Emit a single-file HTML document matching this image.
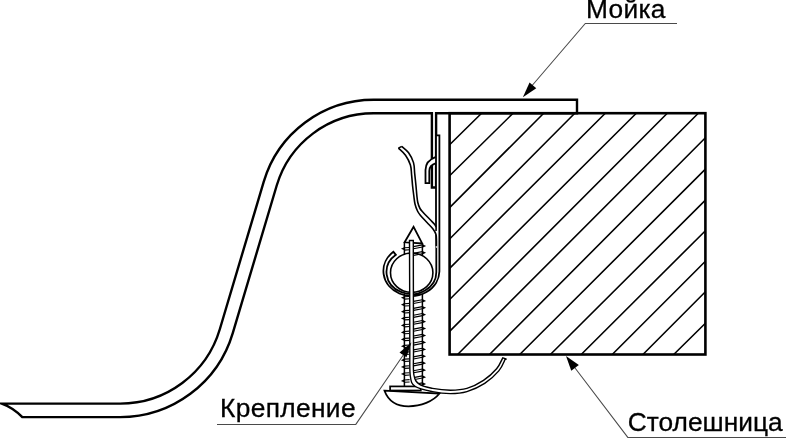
<!DOCTYPE html>
<html><head><meta charset="utf-8"><style>html,body{margin:0;padding:0;background:#fff;}svg{display:block;}</style></head>
<body><svg width="800" height="448" viewBox="0 0 800 448">
<rect width="800" height="448" fill="#fff"/>
<path d="M481.6,113.2 L449.6,144.7 M513.1,113.2 L449.6,175.7 M543.7,113.2 L449.6,207.6 M574.8,113.2 L449.6,239.0 M605.3,113.2 L449.6,268.4 M636.3,113.2 L449.6,299.5 M667.3,113.2 L449.6,331.4 M698.3,113.2 L457.6,354.5 M705.4,137.7 L489.5,354.5 M705.4,169.1 L519.7,354.5 M705.4,200.1 L550.4,354.5 M705.4,230.7 L581.2,354.5 M705.4,261.2 L612.2,354.5 M705.4,291.7 L642.9,354.5 M705.4,323.3 L673.7,354.5" stroke="#000" stroke-width="1.6" fill="none"/>
<rect x="449.6" y="113.2" width="255.8" height="241.3" fill="none" stroke="#000" stroke-width="2.6"/>
<path d="M1.7,403.61 L120.06,403.61 A104.07,104.07 0 0 0 219.80,329.25 L263.76,181.67 A114.63,114.63 0 0 1 373.61,99.77 L577,99.77 L577,113.2 L436.1,113.2 L436.1,187.5 L431.9,187.5 L431.9,113.29 L373.61,113.29 A101.10,101.10 0 0 0 276.72,185.53 L232.76,333.12 A117.59,117.59 0 0 1 120.06,417.14 L22.3,417.14 C14,408.5 7,405.5 1.7,403.61 Z" fill="none" stroke="#000" stroke-width="2.4" stroke-linejoin="miter" stroke-miterlimit="10"/>
<path d="M436,156.8 C430,159 425.5,163 425.5,170 L425.5,183.2 L429.3,183.2 L429.3,171 C429.3,167 432,164.5 436,163.2" fill="#fff" stroke="#000" stroke-width="1.8"/>
<path d="M436,135.4 L439.4,135.4 L439.4,271.5 A28,25 0 1 1 393.4,251.8 L395.9,254.8 A24.9,22 0 1 0 436.3,271.5 L436.3,241 L436,232 Z" fill="#fff" stroke="#000" stroke-width="1.8"/>
<path d="M398.40,148.10 C399.58,149.28 403.50,152.38 405.50,155.20 C407.50,158.02 409.38,161.73 410.40,165.00 C411.42,168.27 411.23,171.30 411.60,174.80 C411.97,178.30 412.25,182.63 412.60,186.00 C412.95,189.37 413.30,192.00 413.70,195.00 C414.10,198.00 414.37,201.33 415.00,204.00 C415.63,206.67 416.58,209.08 417.50,211.00 C418.42,212.92 418.92,213.58 420.50,215.50 C422.08,217.42 424.92,220.25 427.00,222.50 C429.08,224.75 431.50,227.00 433.00,229.00 C434.50,231.00 435.45,232.50 436.00,234.50 C436.55,236.50 436.25,239.08 436.30,241.00 C436.35,242.92 436.30,245.17 436.30,246.00 L436.3,248 L437,248 L437,226 L436.00,231.00 C436.00,230.33 436.25,228.13 436.00,227.00 C435.75,225.87 435.50,225.45 434.50,224.20 C433.50,222.95 431.88,221.45 430.00,219.50 C428.12,217.55 424.87,214.33 423.20,212.50 C421.53,210.67 420.90,210.17 420.00,208.50 C419.10,206.83 418.33,204.75 417.80,202.50 C417.27,200.25 417.10,197.75 416.80,195.00 C416.50,192.25 416.35,189.57 416.00,186.00 C415.65,182.43 415.12,177.50 414.70,173.60 C414.28,169.70 414.52,166.08 413.50,162.60 C412.48,159.12 410.55,155.40 408.60,152.70 C406.65,150.00 402.93,147.45 401.80,146.40 Z" fill="#fff" stroke="none"/>
<path d="M398.40,148.10 C399.58,149.28 403.50,152.38 405.50,155.20 C407.50,158.02 409.38,161.73 410.40,165.00 C411.42,168.27 411.23,171.30 411.60,174.80 C411.97,178.30 412.25,182.63 412.60,186.00 C412.95,189.37 413.30,192.00 413.70,195.00 C414.10,198.00 414.37,201.33 415.00,204.00 C415.63,206.67 416.58,209.08 417.50,211.00 C418.42,212.92 418.92,213.58 420.50,215.50 C422.08,217.42 424.92,220.25 427.00,222.50 C429.08,224.75 431.50,227.00 433.00,229.00 C434.50,231.00 435.45,232.50 436.00,234.50 C436.55,236.50 436.25,239.08 436.30,241.00 C436.35,242.92 436.30,245.17 436.30,246.00" fill="none" stroke="#000" stroke-width="1.6"/>
<path d="M401.80,146.40 C402.93,147.45 406.65,150.00 408.60,152.70 C410.55,155.40 412.48,159.12 413.50,162.60 C414.52,166.08 414.28,169.70 414.70,173.60 C415.12,177.50 415.65,182.43 416.00,186.00 C416.35,189.57 416.50,192.25 416.80,195.00 C417.10,197.75 417.27,200.25 417.80,202.50 C418.33,204.75 419.10,206.83 420.00,208.50 C420.90,210.17 421.53,210.67 423.20,212.50 C424.87,214.33 428.12,217.55 430.00,219.50 C431.88,221.45 433.50,222.95 434.50,224.20 C435.50,225.45 435.75,225.87 436.00,227.00 C436.25,228.13 436.00,230.33 436.00,231.00" fill="none" stroke="#000" stroke-width="1.6"/>
<path d="M398.4,148.1 L401.8,146.4" stroke="#000" stroke-width="1.6"/>
<ellipse cx="411.7" cy="272.7" rx="21.2" ry="19.7" fill="none" stroke="#000" stroke-width="1.6"/>
<path d="M413.6,226.8 L404.6,242.3 L422.2,243.4 Z" fill="#fff" stroke="#000" stroke-width="1.8" stroke-linejoin="miter"/>
<path d="M404.6,246.90 L400.9,248.80 L404.6,250.30 Z" fill="#000"/>
<path d="M404.4,247.80 L409.6,247.50 M404.4,250.10 L409.6,249.80" stroke="#000" stroke-width="1.15"/>
<path d="M404.6,295.90 L400.9,297.80 L404.6,299.30 Z" fill="#000"/>
<path d="M404.4,296.80 L409.6,296.50 M404.4,299.10 L409.6,298.80" stroke="#000" stroke-width="1.15"/>
<path d="M404.6,302.83 L400.9,304.73 L404.6,306.23 Z" fill="#000"/>
<path d="M404.4,303.73 L409.6,303.43 M404.4,306.03 L409.6,305.73" stroke="#000" stroke-width="1.15"/>
<path d="M404.6,309.76 L400.9,311.66 L404.6,313.16 Z" fill="#000"/>
<path d="M404.4,310.66 L409.6,310.36 M404.4,312.96 L409.6,312.66" stroke="#000" stroke-width="1.15"/>
<path d="M404.6,316.69 L400.9,318.59 L404.6,320.09 Z" fill="#000"/>
<path d="M404.4,317.59 L409.6,317.29 M404.4,319.89 L409.6,319.59" stroke="#000" stroke-width="1.15"/>
<path d="M404.6,323.62 L400.9,325.52 L404.6,327.02 Z" fill="#000"/>
<path d="M404.4,324.52 L409.6,324.22 M404.4,326.82 L409.6,326.52" stroke="#000" stroke-width="1.15"/>
<path d="M404.6,330.55 L400.9,332.45 L404.6,333.95 Z" fill="#000"/>
<path d="M404.4,331.45 L409.6,331.15 M404.4,333.75 L409.6,333.45" stroke="#000" stroke-width="1.15"/>
<path d="M404.6,337.48 L400.9,339.38 L404.6,340.88 Z" fill="#000"/>
<path d="M404.4,338.38 L409.6,338.08 M404.4,340.68 L409.6,340.38" stroke="#000" stroke-width="1.15"/>
<path d="M404.6,344.41 L400.9,346.31 L404.6,347.81 Z" fill="#000"/>
<path d="M404.4,345.31 L409.6,345.01 M404.4,347.61 L409.6,347.31" stroke="#000" stroke-width="1.15"/>
<path d="M404.6,351.34 L400.9,353.24 L404.6,354.74 Z" fill="#000"/>
<path d="M404.4,352.24 L409.6,351.94 M404.4,354.54 L409.6,354.24" stroke="#000" stroke-width="1.15"/>
<path d="M404.6,358.27 L400.9,360.17 L404.6,361.67 Z" fill="#000"/>
<path d="M404.4,359.17 L409.6,358.87 M404.4,361.47 L409.6,361.17" stroke="#000" stroke-width="1.15"/>
<path d="M404.6,365.20 L400.9,367.10 L404.6,368.60 Z" fill="#000"/>
<path d="M404.4,366.10 L409.6,365.80 M404.4,368.40 L409.6,368.10" stroke="#000" stroke-width="1.15"/>
<path d="M404.6,372.13 L400.9,374.03 L404.6,375.53 Z" fill="#000"/>
<path d="M404.4,373.03 L409.6,372.73 M404.4,375.33 L409.6,375.03" stroke="#000" stroke-width="1.15"/>
<path d="M404.6,379.06 L400.9,380.96 L404.6,382.46 Z" fill="#000"/>
<path d="M404.4,379.96 L409.6,379.66 M404.4,382.26 L409.6,381.96" stroke="#000" stroke-width="1.15"/>
<path d="M422.4,244.20 L426.1,246.10 L422.4,247.70 Z" fill="#000"/>
<path d="M413.5,246.60 L422.4,244.90 M413.5,248.70 L422.4,247.00" stroke="#000" stroke-width="1.15"/>
<path d="M422.4,250.90 L426.1,252.80 L422.4,254.40 Z" fill="#000"/>
<path d="M413.5,253.30 L422.4,251.60 M413.5,255.40 L422.4,253.70" stroke="#000" stroke-width="1.15"/>
<path d="M422.4,299.00 L426.1,300.90 L422.4,302.50 Z" fill="#000"/>
<path d="M413.5,301.40 L422.4,299.70 M413.5,303.50 L422.4,301.80" stroke="#000" stroke-width="1.15"/>
<path d="M422.4,305.93 L426.1,307.83 L422.4,309.43 Z" fill="#000"/>
<path d="M413.5,308.33 L422.4,306.63 M413.5,310.43 L422.4,308.73" stroke="#000" stroke-width="1.15"/>
<path d="M422.4,312.86 L426.1,314.76 L422.4,316.36 Z" fill="#000"/>
<path d="M413.5,315.26 L422.4,313.56 M413.5,317.36 L422.4,315.66" stroke="#000" stroke-width="1.15"/>
<path d="M422.4,319.79 L426.1,321.69 L422.4,323.29 Z" fill="#000"/>
<path d="M413.5,322.19 L422.4,320.49 M413.5,324.29 L422.4,322.59" stroke="#000" stroke-width="1.15"/>
<path d="M422.4,326.72 L426.1,328.62 L422.4,330.22 Z" fill="#000"/>
<path d="M413.5,329.12 L422.4,327.42 M413.5,331.22 L422.4,329.52" stroke="#000" stroke-width="1.15"/>
<path d="M422.4,333.65 L426.1,335.55 L422.4,337.15 Z" fill="#000"/>
<path d="M413.5,336.05 L422.4,334.35 M413.5,338.15 L422.4,336.45" stroke="#000" stroke-width="1.15"/>
<path d="M422.4,340.58 L426.1,342.48 L422.4,344.08 Z" fill="#000"/>
<path d="M413.5,342.98 L422.4,341.28 M413.5,345.08 L422.4,343.38" stroke="#000" stroke-width="1.15"/>
<path d="M422.4,347.51 L426.1,349.41 L422.4,351.01 Z" fill="#000"/>
<path d="M413.5,349.91 L422.4,348.21 M413.5,352.01 L422.4,350.31" stroke="#000" stroke-width="1.15"/>
<path d="M422.4,354.44 L426.1,356.34 L422.4,357.94 Z" fill="#000"/>
<path d="M413.5,356.84 L422.4,355.14 M413.5,358.94 L422.4,357.24" stroke="#000" stroke-width="1.15"/>
<path d="M422.4,361.37 L426.1,363.27 L422.4,364.87 Z" fill="#000"/>
<path d="M413.5,363.77 L422.4,362.07 M413.5,365.87 L422.4,364.17" stroke="#000" stroke-width="1.15"/>
<path d="M422.4,368.30 L426.1,370.20 L422.4,371.80 Z" fill="#000"/>
<path d="M413.5,370.70 L422.4,369.00 M413.5,372.80 L422.4,371.10" stroke="#000" stroke-width="1.15"/>
<path d="M422.4,375.23 L426.1,377.13 L422.4,378.73 Z" fill="#000"/>
<path d="M413.5,377.63 L422.4,375.93 M413.5,379.73 L422.4,378.03" stroke="#000" stroke-width="1.15"/>
<path d="M422.4,382.16 L426.1,384.06 L422.4,385.66 Z" fill="#000"/>
<path d="M413.5,384.56 L422.4,382.86 M413.5,386.66 L422.4,384.96" stroke="#000" stroke-width="1.15"/>
<path d="M404.4,243 L404.4,254 M422.4,243.4 L422.4,255 M404.4,294 L404.4,386.4 M422.4,294 L422.4,386.4" stroke="#000" stroke-width="1.5"/>
<path d="M384.5,390.7 L439.5,393.5 C433,401.5 421,406.3 408.5,406.3 C396,406.3 388,400 384.6,391 Z" fill="#fff" stroke="#000" stroke-width="1.8"/>
<rect x="390.1" y="386.4" width="30.7" height="4.1" fill="#fff" stroke="#000" stroke-width="1.7"/>
<path d="M409.50,240.50 C409.53,250.42 409.65,281.75 409.70,300.00 C409.75,318.25 409.70,337.33 409.80,350.00 C409.90,362.67 409.43,369.97 410.30,376.00 C411.17,382.03 411.30,383.60 415.00,386.20 C418.70,388.80 426.60,390.37 432.50,391.60 C438.40,392.83 444.67,393.60 450.40,393.60 C456.13,393.60 461.18,393.30 466.90,391.60 C472.62,389.90 479.38,386.85 484.70,383.40 C490.02,379.95 495.38,374.93 498.80,370.90 C502.22,366.87 504.13,361.15 505.20,359.20 L502.80,357.80 C501.77,359.63 499.82,365.03 496.60,368.80 C493.38,372.57 488.45,377.13 483.50,380.40 C478.55,383.67 472.42,386.77 466.90,388.40 C461.38,390.03 456.13,390.20 450.40,390.20 C444.67,390.20 437.63,389.37 432.50,388.40 C427.37,387.43 422.70,386.63 419.60,384.40 C416.50,382.17 414.92,380.73 413.90,375.00 C412.88,369.27 413.58,362.50 413.50,350.00 C413.42,337.50 413.43,318.25 413.40,300.00 C413.37,281.75 413.32,250.42 413.30,240.50 Z" fill="#fff" stroke="none"/>
<path d="M409.50,240.50 C409.53,250.42 409.65,281.75 409.70,300.00 C409.75,318.25 409.70,337.33 409.80,350.00 C409.90,362.67 409.43,369.97 410.30,376.00 C411.17,382.03 411.30,383.60 415.00,386.20 C418.70,388.80 426.60,390.37 432.50,391.60 C438.40,392.83 444.67,393.60 450.40,393.60 C456.13,393.60 461.18,393.30 466.90,391.60 C472.62,389.90 479.38,386.85 484.70,383.40 C490.02,379.95 495.38,374.93 498.80,370.90 C502.22,366.87 504.13,361.15 505.20,359.20 L506.5,359.2 L502.80,357.80 C501.77,359.63 499.82,365.03 496.60,368.80 C493.38,372.57 488.45,377.13 483.50,380.40 C478.55,383.67 472.42,386.77 466.90,388.40 C461.38,390.03 456.13,390.20 450.40,390.20 C444.67,390.20 437.63,389.37 432.50,388.40 C427.37,387.43 422.70,386.63 419.60,384.40 C416.50,382.17 414.92,380.73 413.90,375.00 C412.88,369.27 413.58,362.50 413.50,350.00 C413.42,337.50 413.43,318.25 413.40,300.00 C413.37,281.75 413.32,250.42 413.30,240.50 Z" fill="none" stroke="#000" stroke-width="1.4"/>
<path d="M677,23.5 L585.3,23.5 L530,88" fill="none" stroke="#4a4a4a" stroke-width="1.05"/>
<path d="M522.90,97.20 L536.27,88.21 L529.56,82.53 Z" fill="#000"/>
<path d="M786,437.4 L627.8,437.4 L572,364" fill="none" stroke="#4a4a4a" stroke-width="1.05"/>
<path d="M566.00,355.90 L571.28,370.72 L578.85,364.98 Z" fill="#000"/>
<path d="M217,424.4 L355.8,424.4 L404,354" fill="none" stroke="#4a4a4a" stroke-width="1.05"/>
<path d="M411.40,342.40 L399.51,352.46 L406.46,357.17 Z" fill="#000"/>
<g style="will-change:transform">
<text x="586.1" y="18.4" letter-spacing="0.28" font-family="Liberation Sans, sans-serif" font-size="26.3" fill="#000" stroke="#000" stroke-width="0.3">Мойка</text>
<text x="220.1" y="417.3" letter-spacing="0.35" font-family="Liberation Sans, sans-serif" font-size="26.3" fill="#000" stroke="#000" stroke-width="0.3">Крепление</text>
<text x="627.7" y="431.1" letter-spacing="0.03" font-family="Liberation Sans, sans-serif" font-size="26.3" fill="#000" stroke="#000" stroke-width="0.3">Столешница</text>
</g>
</svg></body></html>
